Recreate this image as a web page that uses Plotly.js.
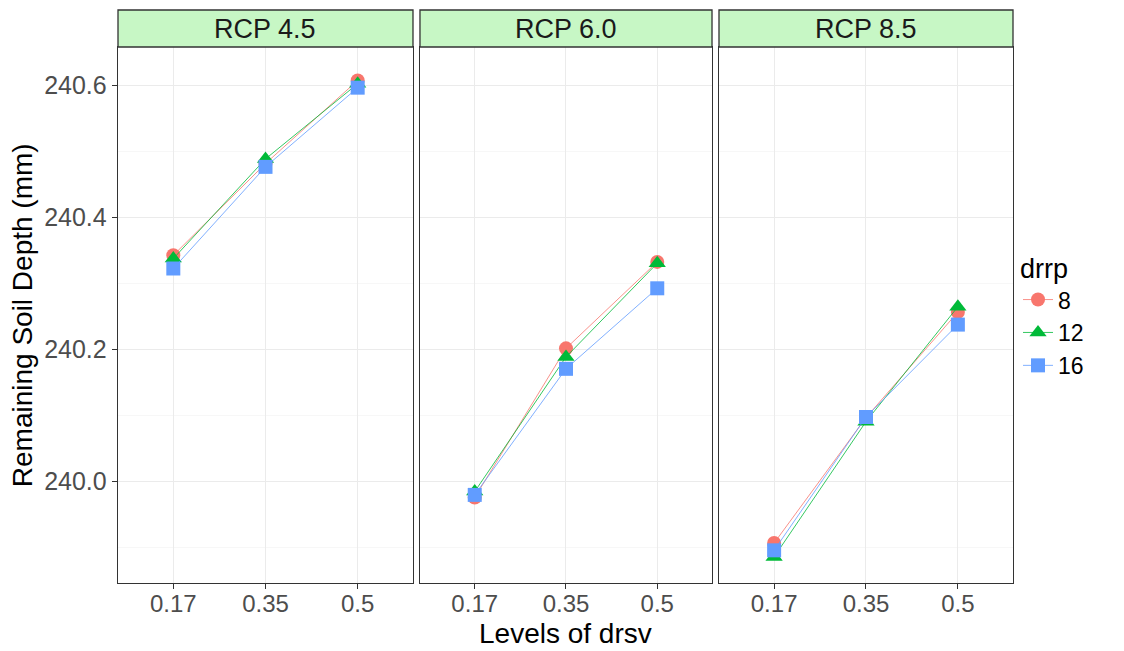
<!DOCTYPE html>
<html>
<head>
<meta charset="utf-8">
<script src="https://cdn.plot.ly/plotly-3.0.1.min.js"></script>
<style>html,body{margin:0;padding:0;background:#fff;}#chart{width:1124px;height:651px;}</style>
</head>
<body>
<div id="chart"></div>
<script>
// Data
const panels = ["RCP 4.5", "RCP 6.0", "RCP 8.5"];
const drsvLevels = ["0.17", "0.35", "0.5"];
const drrpLevels = ["8", "12", "16"];
const yTickVals = [240.0, 240.2, 240.4, 240.6];
const yTickText = ["240.0", "240.2", "240.4", "240.6"];
const yMinorVals = [239.9, 240.1, 240.3, 240.5];

// Remaining soil depth (mm) per panel, per drrp level, over drsv levels
const rcp45_drrp8  = [240.342, 240.481, 240.607];
const rcp45_drrp12 = [240.337, 240.488, 240.602];
const rcp45_drrp16 = [240.322, 240.476, 240.596];

const rcp60_drrp8  = [239.975, 240.201, 240.332];
const rcp60_drrp12 = [239.984, 240.188, 240.330];
const rcp60_drrp16 = [239.979, 240.170, 240.292];

const rcp85_drrp8  = [239.906, 240.096, 240.256];
const rcp85_drrp12 = [239.885, 240.090, 240.264];
const rcp85_drrp16 = [239.895, 240.097, 240.237];

const seriesByPanel = [
  [rcp45_drrp8, rcp45_drrp12, rcp45_drrp16],
  [rcp60_drrp8, rcp60_drrp12, rcp60_drrp16],
  [rcp85_drrp8, rcp85_drrp12, rcp85_drrp16]
];

const colors = ["#F8766D", "#00BA38", "#619CFF"];
const symbols = ["circle", "triangle-up", "square"];
const FONT = "Liberation Sans, Arial, sans-serif";

const traces = [];
seriesByPanel.forEach((series, p) => {
  series.forEach((vals, s) => {
    traces.push({
      type: "scatter",
      mode: "lines+markers",
      x: drsvLevels,
      y: vals,
      xaxis: p === 0 ? "x" : "x" + (p + 1),
      yaxis: p === 0 ? "y" : "y" + (p + 1),
      name: drrpLevels[s],
      legendgroup: drrpLevels[s],
      showlegend: p === 0,
      line: {color: colors[s], width: 0.8},
      marker: {color: colors[s], symbol: symbols[s], size: s === 1 ? 15 : 14}
    });
  });
});

const doms = [[0, 0.3296], [0.3374, 0.6637], [0.6715, 1]];
const yRange = [239.8455, 240.6576];

function xax(i) {
  return {
    domain: doms[i], type: "category", categoryorder: "array", categoryarray: drsvLevels,
    range: [-0.6, 2.6], showline: true, mirror: true, linecolor: "#333333", linewidth: 1.3,
    ticks: "outside", ticklen: 5, tickcolor: "#333333", tickwidth: 1,
    ticklabelstandoff: -6,
    showgrid: true, gridcolor: "#ebebeb", gridwidth: 1, zeroline: false,
    tickfont: {family: FONT, size: 24, color: "#4d4d4d"},
    anchor: i === 0 ? "y" : "y" + (i + 1), fixedrange: true
  };
}
function yax(i) {
  const a = {
    range: yRange, showline: true, mirror: true, linecolor: "#333333", linewidth: 1.3,
    showgrid: true, gridcolor: "#ebebeb", gridwidth: 1, zeroline: false,
    tickmode: "array", tickvals: yTickVals, ticktext: yTickText,
    minor: {tickmode: "array", tickvals: yMinorVals, showgrid: true, gridcolor: "#f2f2f2", gridwidth: 0.6, ticks: ""},
    anchor: i === 0 ? "x" : "x" + (i + 1), fixedrange: true
  };
  if (i === 0) {
    a.ticks = "outside"; a.ticklen = 5; a.tickcolor = "#333333";
    a.tickfont = {family: FONT, size: 25, color: "#4d4d4d"};
  } else {
    a.showticklabels = false; a.ticks = "";
    a.matches = "y";
  }
  return a;
}

const shapes = [];
const annotations = [];
panels.forEach((name, i) => {
  shapes.push({type: "rect", xref: "paper", yref: "paper", x0: doms[i][0], x1: doms[i][1], y0: 1, y1: 1.069,
    fillcolor: "#c7f7c5", line: {color: "#333333", width: 1.3}, layer: "above"});
  annotations.push({xref: "paper", yref: "paper", x: (doms[i][0] + doms[i][1]) / 2, y: 1.0345, text: name,
    showarrow: false, xanchor: "center", yanchor: "middle", font: {family: FONT, size: 27, color: "#1a1a1a"}});
});
annotations.push({xref: "paper", yref: "paper", x: 0.5, y: -0.0933, yanchor: "middle", text: "Levels of drsv",
  showarrow: false, font: {family: FONT, size: 28, color: "#000"}});
annotations.push({xref: "paper", yref: "paper", x: -0.107, xanchor: "center", y: 0.5, yanchor: "middle",
  textangle: -90, text: "Remaining Soil Depth (mm)", showarrow: false, font: {family: FONT, size: 28, color: "#000"}});

const layout = {
  width: 1124, height: 651,
  margin: {l: 118, r: 111, t: 47, b: 68},
  paper_bgcolor: "#fff", plot_bgcolor: "#fff",
  xaxis: xax(0), xaxis2: xax(1), xaxis3: xax(2),
  yaxis: yax(0), yaxis2: yax(1), yaxis3: yax(2),
  shapes: shapes, annotations: annotations,
  showlegend: true,
  legend: {x: 1.0056, xanchor: "left", y: 0.5, yanchor: "middle", bgcolor: "rgba(0,0,0,0)",
    title: {text: "drrp", font: {family: FONT, size: 27, color: "#000"}},
    font: {family: FONT, size: 23, color: "#000"}, itemwidth: 30, tracegroupgap: 0}
};

Plotly.newPlot("chart", traces, layout, {displayModeBar: false, staticPlot: true});
</script>
</body>
</html>
